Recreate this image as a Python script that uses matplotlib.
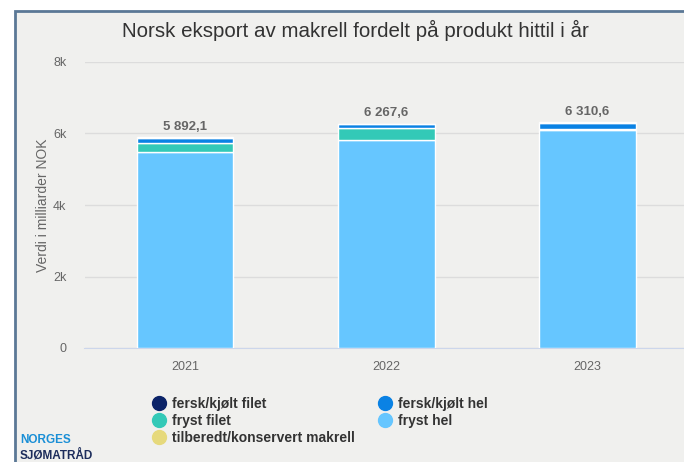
import matplotlib.pyplot as plt
from matplotlib.patches import Rectangle
from matplotlib.lines import Line2D
import numpy as np

plt.rcParams['font.family'] = ['Liberation Sans', 'DejaVu Sans']

years = ["2021", "2022", "2023"]
totals = ["5 892,1", "6 267,6", "6 310,6"]

# bottom -> top stacking order
series = ["tilberedt/konservert makrell", "fryst hel", "fryst filet",
          "fersk/kjølt hel", "fersk/kjølt filet"]
values = {
    "tilberedt/konservert makrell": [12.1, 12.6, 5.6],
    "fryst hel": [5480, 5800, 6100],
    "fryst filet": [240, 330, 10],
    "fersk/kjølt hel": [150, 110, 190],
    "fersk/kjølt filet": [10, 15, 5],
}
colors = {
    "fersk/kjølt filet": "#0b2368",
    "fersk/kjølt hel": "#0a82e4",
    "fryst filet": "#33c9b7",
    "fryst hel": "#66c6ff",
    "tilberedt/konservert makrell": "#e6d97c",
}
legend_order = ["fersk/kjølt filet", "fryst filet", "tilberedt/konservert makrell",
                "fersk/kjølt hel", "fryst hel"]

fig = plt.figure(figsize=(6.84, 4.62), dpi=100)
fig.patch.set_facecolor("white")
fig.add_artist(Rectangle((15 / 684, -0.1), 1.2, (462 - 11) / 462 + 0.1,
                         transform=fig.transFigure, facecolor="#f0f0ee",
                         edgecolor="#5b7896", lw=2, zorder=0))

ax = fig.add_axes([84.5 / 684, 114 / 462, 603.5 / 684, 286 / 462])
ax.set_facecolor("none")

x = np.arange(len(years))
bottom = np.zeros(len(years))
for s in series:
    v = np.array(values[s])
    ax.bar(x, v, 0.48, bottom=bottom, color=colors[s], edgecolor="white",
           linewidth=1, zorder=3)
    bottom += v

for xi, top, lab in zip(x, bottom, totals):
    ax.text(xi, top + 300, lab, ha="center", va="center", fontsize=9.5,
            fontweight="bold", color="#666666")

ax.set_xlim(-0.5, 2.5)
ax.set_ylim(0, 8000)
ax.set_yticks([0, 2000, 4000, 6000, 8000])
ax.set_yticklabels(["0", "2k", "4k", "6k", "8k"])
ax.set_xticks(x)
ax.set_xticklabels(years)
ax.tick_params(axis="both", length=0, labelsize=9, colors="#666666")
ax.tick_params(axis="y", pad=13)
ax.tick_params(axis="x", pad=9)
ax.grid(axis="y", color="#dcdcdc", lw=1, zorder=0)
for sp in ["top", "right", "left"]:
    ax.spines[sp].set_visible(False)
ax.spines["bottom"].set_color("#ccd6eb")
ax.set_ylabel("Verdi i milliarder NOK", fontsize=10, color="#666666", labelpad=2)

fig.text(355 / 684, 1 - 30 / 462, "Norsk eksport av makrell fordelt på produkt hittil i år",
         ha="center", va="center", fontsize=14.8, color="#333333")

handles = [Line2D([], [], marker="o", ls="none", markersize=10,
                  markerfacecolor=colors[s], markeredgecolor=colors[s])
           for s in legend_order]
leg = fig.legend(handles, legend_order, ncol=2, loc="upper left",
                 bbox_to_anchor=(144 / 684, 1 - 390 / 462), frameon=False,
                 prop={"weight": "bold", "size": 10}, labelspacing=0.2,
                 handletextpad=0.3, columnspacing=1.6, handlelength=1.2,
                 borderpad=0)
for t in leg.get_texts():
    t.set_color("#333333")

fig.text(20 / 684, 1 - 440 / 462, "NORGES", fontsize=8.5, fontweight="bold",
         color="#1a8fd6", va="center")
fig.text(20 / 684, 1 - 455 / 462, "SJØMATRÅD", fontsize=8.5, fontweight="bold",
         color="#1d2d5c", va="center")

fig.savefig("out.png", dpi=100)
